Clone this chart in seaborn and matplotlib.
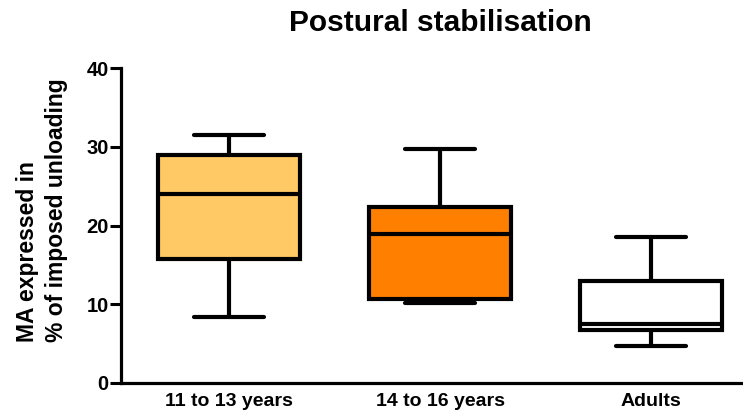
import matplotlib
matplotlib.use("Agg")
import matplotlib.pyplot as plt
import seaborn as sns
import pandas as pd

# Data (min, Q1, median, Q3, max per group)
groups = ["11 to 13 years", "14 to 16 years", "Adults"]
mins = [8.4, 10.2, 4.75]
q1s = [15.75, 10.65, 6.7]
medians = [24.0, 18.9, 7.45]
q3s = [29.0, 22.3, 13.0]
maxs = [31.5, 29.7, 18.6]
colors = ["#FFCA66", "#FF8000", "#FFFFFF"]
yticks = [0, 10, 20, 30, 40]

title = "Postural stabilisation"
ylabel = "MA expressed in\n% of imposed unloading"

rows = []
for g, a, b, c, d, e in zip(groups, mins, q1s, medians, q3s, maxs):
    for v in (a, b, c, d, e):
        rows.append({"group": g, "value": v})
df = pd.DataFrame(rows)

sns.set_theme(style="ticks")
plt.rcParams["font.family"] = ["Liberation Sans", "DejaVu Sans"]
plt.rcParams["font.weight"] = "bold"
plt.rcParams["text.color"] = "black"
plt.rcParams["axes.labelcolor"] = "black"
plt.rcParams["xtick.color"] = "black"
plt.rcParams["ytick.color"] = "black"

fig = plt.figure(figsize=(7.43, 4.17), dpi=100)
ax = fig.add_axes([121 / 743, 1 - 383 / 417, 622 / 743, 315 / 417])

sns.boxplot(data=df, x="group", y="value", hue="group", order=groups,
            palette=dict(zip(groups, colors)), legend=False, saturation=1,
            whis=(0, 100), showfliers=False, width=0.67,
            linecolor="black", linewidth=3, ax=ax,
            capprops=dict(solid_capstyle="round"),
            whiskerprops=dict(solid_capstyle="butt"))

ax.set_ylim(0, 40)
ax.set_xlim(-0.512, 2.436)
ax.set_yticks(yticks)
ax.set_yticklabels([str(t) for t in yticks], fontsize=14.5, fontweight="bold")
ax.set_xticks(range(len(groups)))
ax.set_xticklabels(groups, fontsize=14, fontweight="bold")
ax.tick_params(axis="x", length=0, pad=7)
ax.tick_params(axis="y", length=8, width=2.2, pad=1, color="black")
ax.set_xlabel("")
ax.set_ylabel(ylabel, fontsize=16.5, fontweight="bold", multialignment="left",
              linespacing=1.35, color="black")
ax.yaxis.set_label_coords(-0.085, 0.55)

for s in ["top", "right"]:
    ax.spines[s].set_visible(False)
for s in ["left", "bottom"]:
    ax.spines[s].set_linewidth(2.3)
    ax.spines[s].set_color("black")

fig.text(440 / 743, 1 - 23 / 417, title, fontsize=21.5, fontweight="bold",
         ha="center", va="center", color="black")

fig.savefig("out.png", dpi=100)
